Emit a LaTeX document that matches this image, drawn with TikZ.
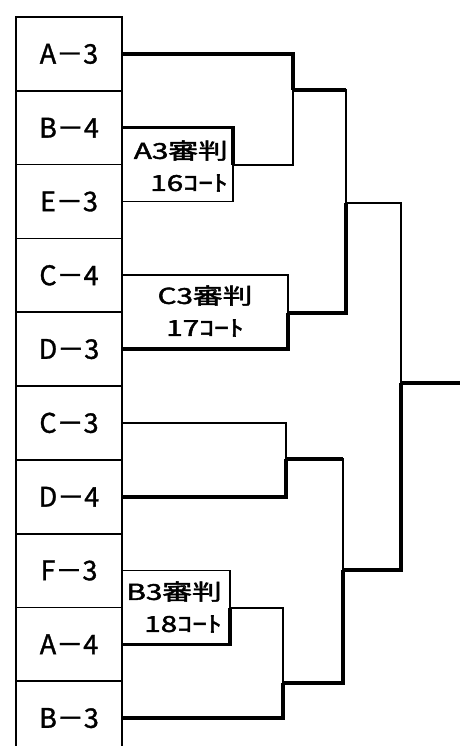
\documentclass[tikz,border=0pt]{standalone}
\usepackage{graphicx}
\usepackage{fontspec}
\setmainfont{Noto Sans CJK JP}
\newfontfamily\teamfont{Noto Sans CJK JP}[FakeBold=1.2]
\newfontfamily\judgefont{Noto Sans CJK JP}[FakeBold=1.8]
\begin{document}
\begin{tikzpicture}[x=1pt,y=-1pt,
  team/.style={draw,line width=1.8pt,minimum width=106pt,minimum height=73.8pt,inner sep=0pt,font=\teamfont\fontsize{27}{27}\selectfont},
  win/.style={line width=3.6pt},
  lose/.style={line width=1.8pt},
  judge/.style={inner sep=0pt,font=\judgefont\fontsize{22}{32}\selectfont}]
\useasboundingbox (0,0) rectangle (464,746);
\clip (0,0) rectangle (464,746);
\fill[white] (0,0) rectangle (464,746);
% team boxes
\node[team] (b0) at (69,53.9) {A－3};
\node[team] (b1) at (69,127.7) {B－4};
\node[team] (b2) at (69,201.5) {E－3};
\node[team] (b3) at (69,275.3) {C－4};
\node[team] (b4) at (69,349.1) {D－3};
\node[team] (b5) at (69,422.9) {C－3};
\node[team] (b6) at (69,496.7) {D－4};
\node[team] (b7) at (69,570.5) {F－3};
\node[team] (b8) at (69,644.3) {A－4};
\node[team] (b9) at (69,718.1) {B－3};
% joints
\coordinate (jBE) at (233,165);
\coordinate (jA) at (293,90);
\coordinate (jCD) at (288,313);
\coordinate (jT) at (346,203);
\coordinate (jCDd) at (286,459);
\coordinate (jFA) at (230,608);
\coordinate (jB) at (283,683);
\coordinate (jBot) at (343,570);
\coordinate (jF) at (401,383);
\coordinate (fin) at (460,383);
% round 1
\draw[win] (b1.east) -| (jBE);
\draw[lose] (b2.east) -| (jBE);
\draw[win] (b0.east) -| (jA);
\draw[lose] (jBE) -| (jA);
\draw[lose] (b3.east) -| (jCD);
\draw[win] (b4.east) -| (jCD);
\draw[lose] (b5.east) -| (jCDd);
\draw[win] (b6.east) -| (jCDd);
\draw[lose] (b7.east) -| (jFA);
\draw[win] (b8.east) -| (jFA);
\draw[lose] (jFA) -| (jB);
\draw[win] (b9.east) -| (jB);
% round 2
\draw[lose] (jA) -| (jT);
\draw[win] (jA) -- (jA -| jT);
\draw[win] (jCD) -| (jT);
\draw[lose] (jCDd) -| (jBot);
\draw[win] (jCDd) -- (jCDd -| jBot);
\draw[win] (jB) -| (jBot);
% final
\draw[lose] (jT) -| (jF);
\draw[win] (jBot) -| (jF);
\draw[win] (jF) -- (fin);
% judge labels
\node[judge,align=right,anchor=east] (l1) at (228,166) {\scalebox{1.35}[1]{A3審判}\\\scalebox{1.35}[1]{16ｺｰﾄ}};
\node[judge,align=center] (l2) at (205,311) {\scalebox{1.35}[1]{C3審判}\\\scalebox{1.35}[1]{17ｺｰﾄ}};
\node[judge,align=right,anchor=east] (l3) at (222,607) {\scalebox{1.35}[1]{B3審判}\\\scalebox{1.35}[1]{18ｺｰﾄ}};
\end{tikzpicture}
\end{document}
